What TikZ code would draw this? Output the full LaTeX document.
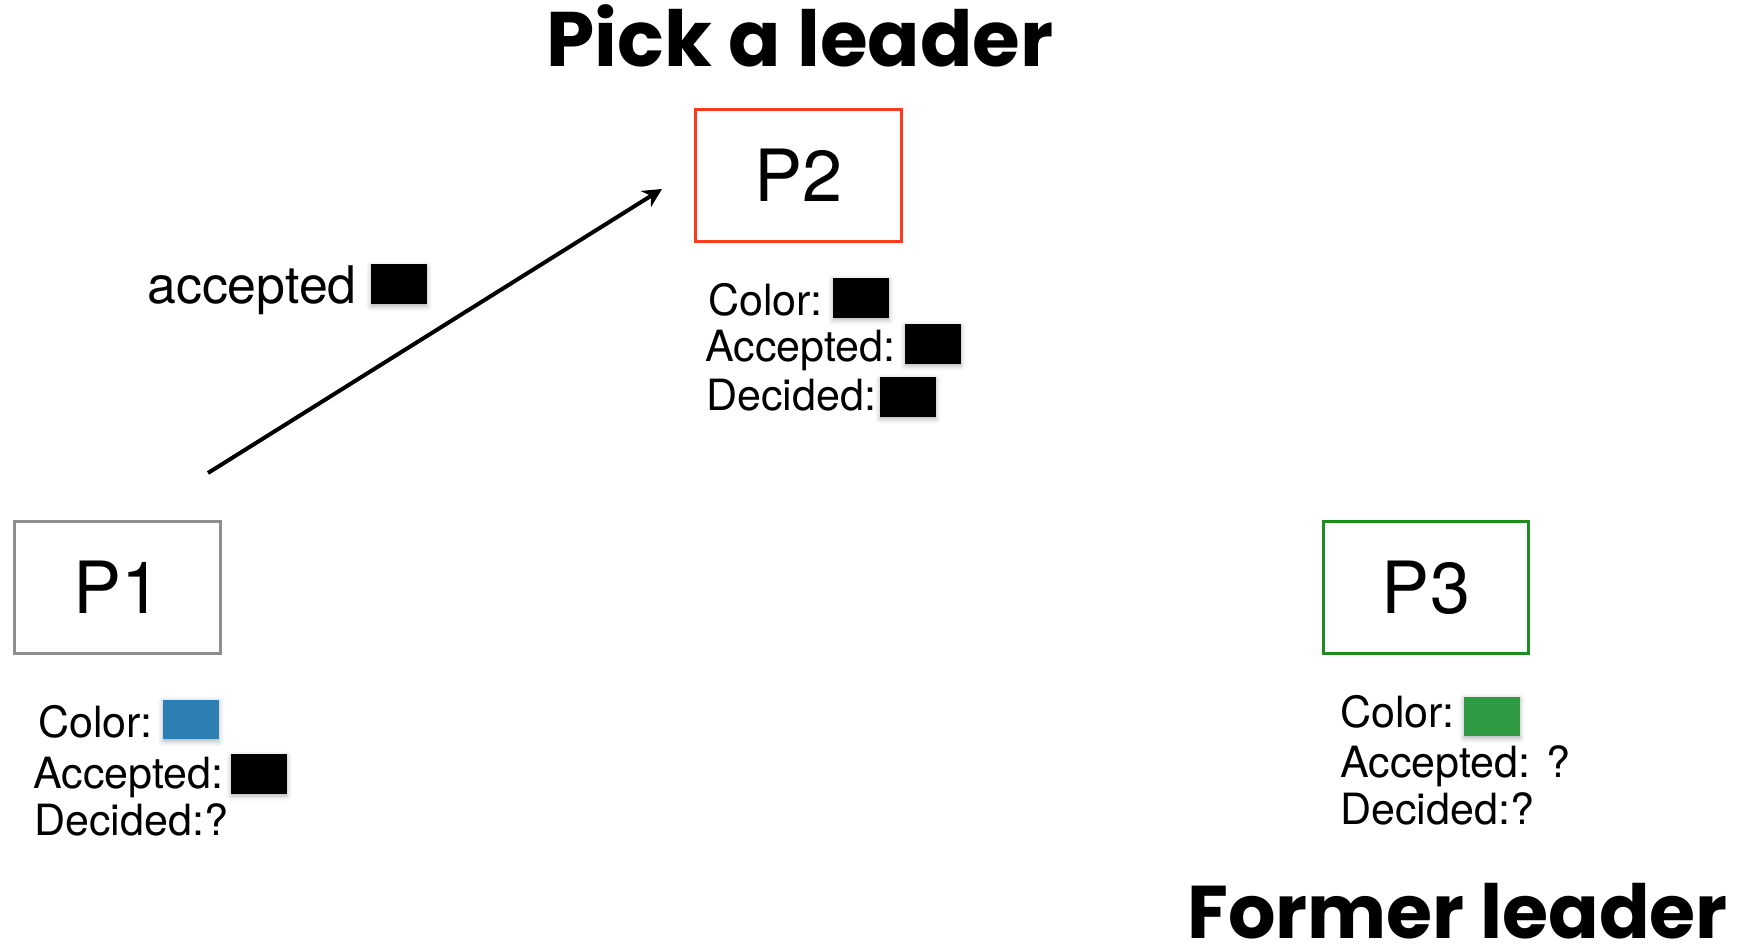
\documentclass[tikz,border=0pt]{standalone}
\usepackage{fontspec}
\setmainfont{TeX Gyre Heros}
\newfontfamily\chalkfont{Poppins}
\usetikzlibrary{arrows.meta,positioning,shadows.blur}

\definecolor{leaderred}{HTML}{FF3B1D}
\definecolor{oldgreen}{HTML}{1E8C1E}
\definecolor{idlegray}{HTML}{8E8E93}
\definecolor{swblue}{HTML}{2F7FB5}
\definecolor{swgreen}{HTML}{2F9A41}

\begin{document}
\begin{tikzpicture}[
  x=0.02cm, y=-0.02cm,
  procnode/.style={rectangle, draw, line width=0.06cm, minimum width=4.12cm, minimum height=2.66cm, font=\fontsize{41}{50}\selectfont},
  infotext/.style={anchor=base west, inner sep=0pt, font=\fontsize{24.5}{29}\selectfont},
  swatch/.style={rectangle, fill=black, minimum width=1.12cm, minimum height=0.8cm, inner sep=0pt,
    blur shadow={shadow xshift=0pt, shadow yshift=-0.04cm, shadow opacity=30, shadow blur radius=0.1cm}},
  chalk/.style={anchor=base, inner sep=0pt, font=\chalkfont\bfseries\fontsize{44}{50}\selectfont}
]
\useasboundingbox (0,0) rectangle (1749,952);

% processes
\node[procnode, draw=idlegray] (P1) at (117.5,587.5) {P1};
\node[procnode, draw=leaderred] (P2) at (798.5,175.5) {P2};
\node[procnode, draw=oldgreen] (P3) at (1426,587.5) {P3};

% state of P1
\node[infotext] (c1) at (38,738) {Color:};
\node[infotext] (a1) at (33,788) {Accepted:};
\node[infotext] (d1) at (34,835) {Decided:?};
\node[swatch, fill=swblue] (s1c) at (191,719.5) {};
\node[swatch] (s1a) at (259,774) {};

% state of P2
\node[infotext] (c2) at (708,316) {Color:};
\node[infotext] (a2) at (705,362) {Accepted:};
\node[infotext] (d2) at (706,411) {Decided:};
\node[swatch] (s2c) at (861,298) {};
\node[swatch] (s2a) at (933,344) {};
\node[swatch] (s2d) at (908,397) {};

% state of P3
\node[infotext] (c3) at (1340,728) {Color:};
\node[infotext] (a3) at (1340,778) {Accepted: ?};
\node[infotext] (d3) at (1340,825) {Decided:?};
\node[swatch, fill=swgreen] (s3c) at (1492,716.5) {};

% message P1 -> P2
\coordinate (msgtail) at (208,473);
\coordinate (msghead) at (662,189);
\draw[-{Stealth[length=0.38cm,width=0.38cm]}, line width=0.08cm] (msgtail) -- (msghead);
\node[infotext, font=\fontsize{29.5}{35}\selectfont] (acc) at (147,304) {accepted};
\node[swatch] (sacc) at (399,284.5) {};

% titles
\node[chalk] (pick) at (800,67) {Pick a leader};
\node[chalk, font=\chalkfont\bfseries\fontsize{42.5}{48}\selectfont] (former) at (1457.5,938) {Former leader};

\end{tikzpicture}
\end{document}
